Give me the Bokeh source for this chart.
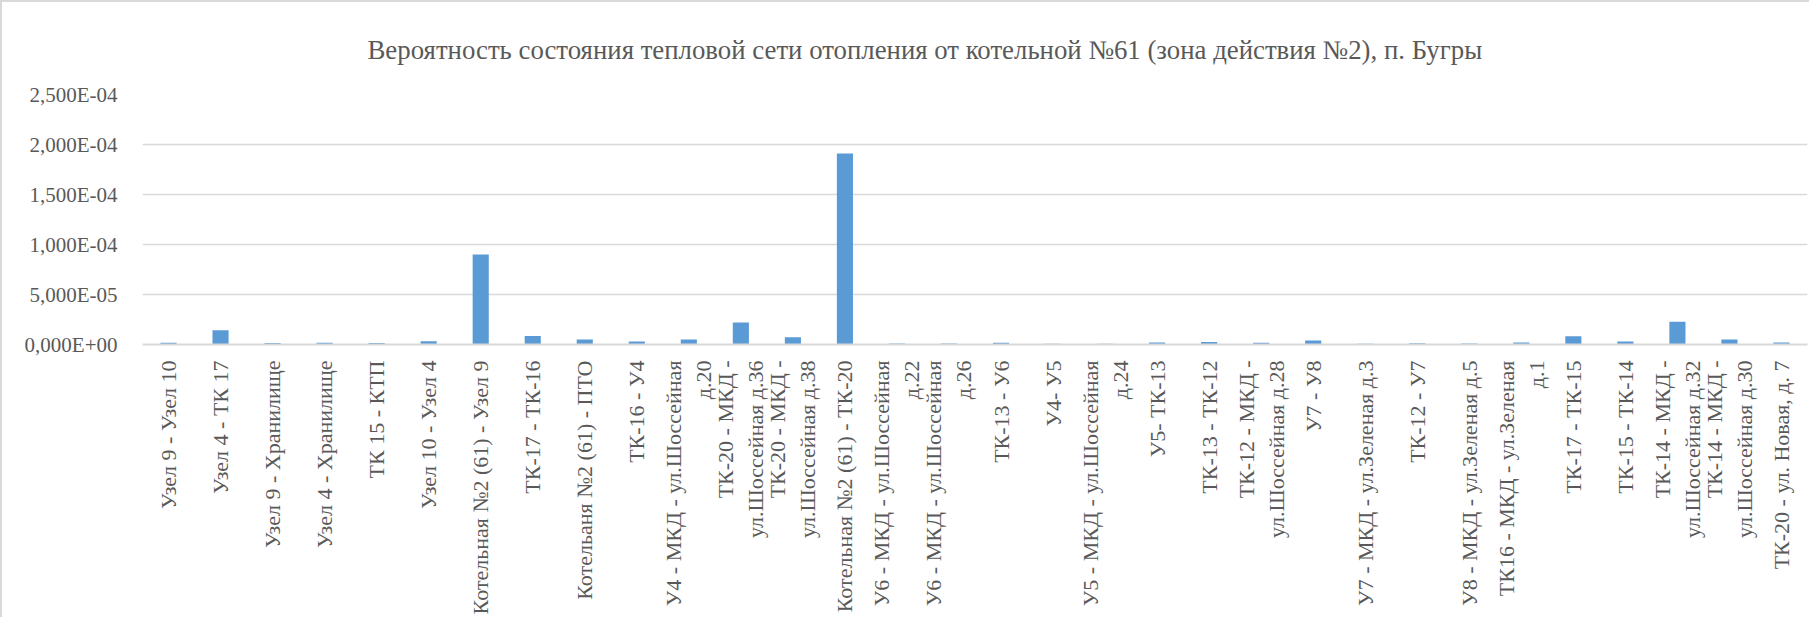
import math
from bokeh.plotting import figure
from bokeh.models import ColumnDataSource, FixedTicker, CustomJSTickFormatter, Range1d, FactorRange
from bokeh.embed import file_html
from bokeh.resources import INLINE

title_text = "Вероятность состояния тепловой сети отопления от котельной №61 (зона действия №2), п. Бугры"

categories = [
    "Узел 9 - Узел 10",
    "Узел 4 - ТК 17",
    "Узел 9 - Хранилище",
    "Узел 4 - Хранилище",
    "ТК 15 - КТП",
    "Узел 10 - Узел 4",
    "Котельная №2 (61) - Узел 9",
    "ТК-17 - ТК-16",
    "Котельаня №2 (61) - ПТО",
    "ТК-16 - У4",
    "У4 - МКД - ул.Шоссейная\nд.20",
    "ТК-20 - МКД -\nул.Шоссейная д.36",
    "ТК-20 - МКД -\nул.Шоссейная д.38",
    "Котельная №2 (61) - ТК-20",
    "У6 - МКД - ул.Шоссейная\nд.22",
    "У6 - МКД - ул.Шоссейная\nд.26",
    "ТК-13 - У6",
    "У4- У5",
    "У5 - МКД - ул.Шоссейная\nд.24",
    "У5- ТК-13",
    "ТК-13 - ТК-12",
    "ТК-12 - МКД -\nул.Шоссейная д.28",
    "У7 - У8",
    "У7 - МКД - ул.Зеленая д.3",
    "ТК-12 - У7",
    "У8 - МКД - ул.Зеленая д.5",
    "ТК16 - МКД - ул.Зеленая\nд.1",
    "ТК-17 - ТК-15",
    "ТК-15 - ТК-14",
    "ТК-14 - МКД -\nул.Шоссейная д.32",
    "ТК-14 - МКД -\nул.Шоссейная д.30",
    "ТК-20 - ул. Новая, д. 7",
]

probability = [
    1.7e-6, 1.42e-5, 1.5e-6, 1.8e-6, 1.5e-6, 3.3e-6, 9.0e-5, 8.6e-6,
    4.9e-6, 2.9e-6, 5.0e-6, 2.2e-5, 7.3e-6, 1.91e-4, 1.0e-6, 1.0e-6,
    1.7e-6, 0.7e-6, 0.7e-6, 2.0e-6, 2.5e-6, 1.7e-6, 4.0e-6, 0.8e-6,
    1.3e-6, 1.0e-6, 2.0e-6, 8.2e-6, 3.0e-6, 2.27e-5, 4.9e-6, 2.0e-6,
]

y_ticks = [0, 5e-5, 1e-4, 1.5e-4, 2e-4, 2.5e-4]

FONT = "Liberation Serif"
TEXT = "#595959"
GRID = "#D9D9D9"
BAR = "#5B9BD5"

source = ColumnDataSource(dict(cat=categories, val=probability))

p = figure(
    x_range=FactorRange(*categories, range_padding=0),
    y_range=Range1d(0, 2.5e-4),
    width=1809, height=617,
    output_backend="svg", toolbar_location=None,
    min_border_left=140, min_border_right=4,
    min_border_top=91, min_border_bottom=275,
)
p.styles = {"border-left": "2px solid #D9D9D9", "border-top": "2px solid #D9D9D9"}

p.vbar(x="cat", top="val", width=0.31, source=source, color=BAR, line_color=None)

p.title.text = title_text
p.title.text_font = FONT
p.title.text_font_size = "26.8px"
p.title.text_font_style = "normal"
p.title.text_color = TEXT
p.title.align = "left"
p.title.offset = 225
p.title.standoff = 60

p.outline_line_color = None
p.background_fill_color = "white"
p.border_fill_color = "white"

p.xgrid.grid_line_color = None
p.ygrid.grid_line_color = GRID
p.ygrid.grid_line_width = 1.3

p.yaxis.ticker = FixedTicker(ticks=y_ticks)
p.yaxis.formatter = CustomJSTickFormatter(code="""
const s = Number(tick).toExponential(3);
const parts = s.split('e');
const sign = parts[1][0];
let d = parts[1].slice(1);
if (d.length < 2) d = '0' + d;
return parts[0].replace('.', ',') + 'E' + sign + d;
""")
p.yaxis.axis_line_color = None
p.yaxis.major_tick_line_color = None
p.yaxis.minor_tick_line_color = None
p.yaxis.major_label_standoff = 19
p.yaxis.major_label_text_font = FONT
p.yaxis.major_label_text_font_size = "21px"
p.yaxis.major_label_text_color = TEXT

p.xaxis.axis_line_color = GRID
p.xaxis.axis_line_width = 2
p.xaxis.major_tick_line_color = None
p.xaxis.minor_tick_line_color = None
p.xaxis.major_label_orientation = math.pi / 2
p.xaxis.major_label_standoff = 10
p.xaxis.major_label_text_font = FONT
p.xaxis.major_label_text_font_size = "22px"
p.xaxis.major_label_text_color = TEXT

open("out.html", "w").write(file_html(p, INLINE))
